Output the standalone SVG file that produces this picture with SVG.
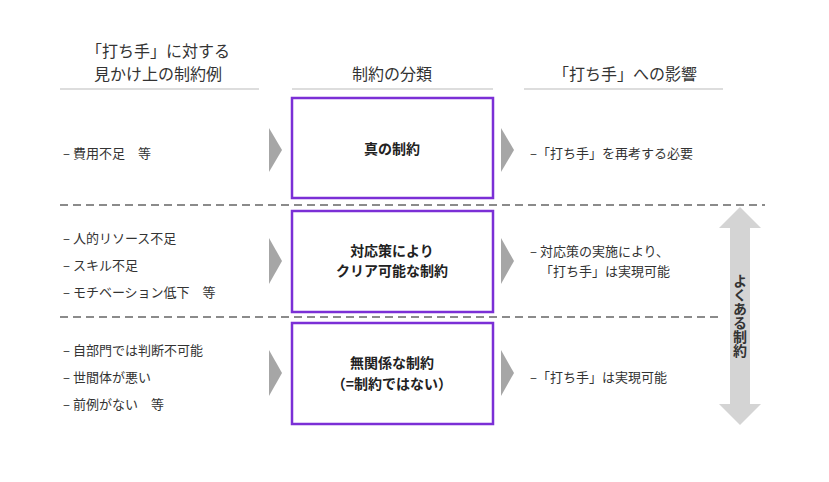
<svg xmlns="http://www.w3.org/2000/svg" width="829" height="482" viewBox="0 0 829 482">
<style>
text{font-family:"Noto Sans CJK JP","Noto Sans",sans-serif;fill:#333}
.h{font-size:16px;text-anchor:middle}
.t{font-size:13px}
.b{font-size:14px;font-weight:bold;text-anchor:middle;fill:#222}
.box{fill:#fff;stroke:#7b2fd6;stroke-width:2.5}
.ul{stroke:#bbb;stroke-width:1.2}
.dash{stroke:#666;stroke-width:1.3;stroke-dasharray:8 5}
.chev{fill:#a6a6a6}
</style>
<rect width="829" height="482" fill="#fff"/>
<g id="headers">
<text class="h" x="158" y="57">「打ち手」に対する</text>
<text class="h" x="158" y="80">見かけ上の制約例</text>
<text class="h" x="392" y="80">制約の分類</text>
<text class="h" x="625" y="80">「打ち手」への影響</text>
<line class="ul" x1="60" y1="89" x2="259" y2="89"/>
<line class="ul" x1="292" y1="89" x2="493" y2="89"/>
<line class="ul" x1="524" y1="89" x2="723" y2="89"/>
</g>
<g id="connectors">
<line class="dash" x1="60" y1="205" x2="765" y2="205"/>
<line class="dash" x1="60" y1="317" x2="722" y2="317"/>
<polygon class="chev" points="269,128 282,150 269,172"/>
<polygon class="chev" points="269,238 282,261 269,284"/>
<polygon class="chev" points="269,350 282,373 269,396"/>
<polygon class="chev" points="501,128 514,150 501,172"/>
<polygon class="chev" points="501,238 514,261 501,284"/>
<polygon class="chev" points="501,350 514,373 501,396"/>
</g>
<g id="box1"><rect class="box" x="292" y="98" width="201" height="100"/><text class="b" x="392" y="154">真の制約</text></g>
<g id="box2"><rect class="box" x="292" y="211" width="201" height="101"/><text class="b" x="392" y="256">対応策により</text><text class="b" x="392" y="276">クリア可能な制約</text></g>
<g id="box3"><rect class="box" x="292" y="323" width="201" height="101"/><text class="b" x="392" y="368">無関係な制約</text><text class="b" x="392" y="389">（=制約ではない）</text></g>
<g id="left">
<text class="t" x="63" y="158">– 費用不足　等</text>
<text class="t" x="63" y="243">– 人的リソース不足</text>
<text class="t" x="63" y="270">– スキル不足</text>
<text class="t" x="63" y="297">– モチベーション低下　等</text>
<text class="t" x="63" y="355">– 自部門では判断不可能</text>
<text class="t" x="63" y="382">– 世間体が悪い</text>
<text class="t" x="63" y="409">– 前例がない　等</text>
</g>
<g id="right">
<text class="t" x="530" y="158">–「打ち手」を再考する必要</text>
<text class="t" x="530" y="256">– 対応策の実施により、</text>
<text class="t" x="540" y="276">「打ち手」は実現可能</text>
<text class="t" x="530" y="382">–「打ち手」は実現可能</text>
</g>
<g id="common">
<polygon fill="#d4d4d4" points="740,207 761,228 750,228 750,404 761,404 740,425 719,404 730,404 730,228 719,228"/>
<text font-size="14" font-weight="bold" fill="#333" x="740" y="316" text-anchor="middle" style="writing-mode:vertical-rl" dominant-baseline="central">よくある制約</text>
</g>
</svg>
